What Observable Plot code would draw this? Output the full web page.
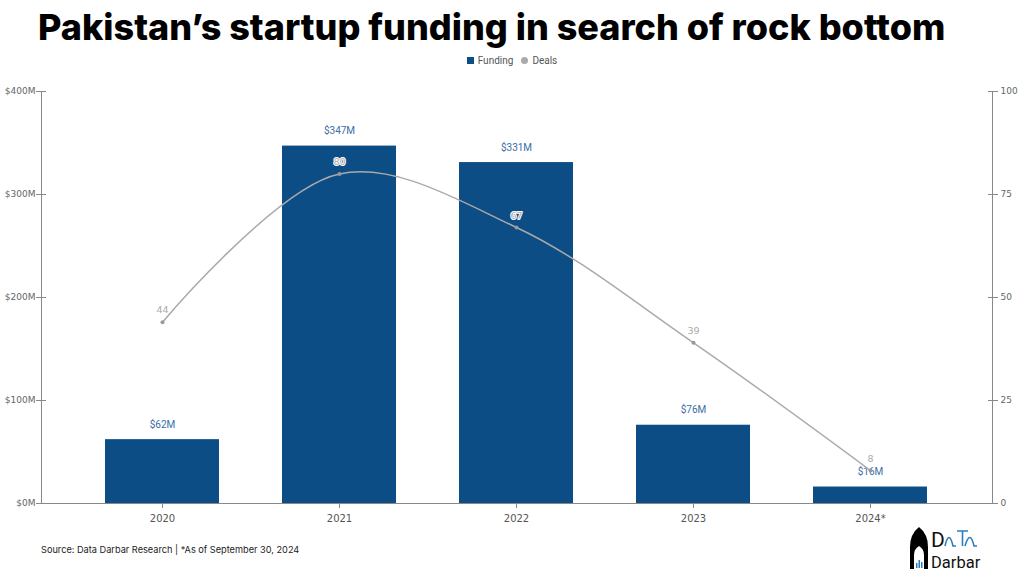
<!DOCTYPE html>
<html><head><meta charset="utf-8">
<script src="https://cdn.jsdelivr.net/npm/d3@7"></script>
<script src="https://cdn.jsdelivr.net/npm/@observablehq/plot@0.6"></script>
<style>
body{margin:0;width:1024px;height:576px;background:#fff;position:relative;overflow:hidden;font-family:Inter,"Noto Sans",sans-serif}
#title{position:absolute;left:38px;top:5px;font-size:36px;font-weight:800;color:#000;white-space:nowrap;letter-spacing:0px}
#legend{position:absolute;top:55px;left:0;width:1024px;text-align:center;font-size:10px;color:#555;font-family:Roboto,sans-serif}
#legend span{display:inline-flex;align-items:center;margin:0 4px}
#legend i{display:inline-block;width:7px;height:7px;margin-right:4px}
#chart{position:absolute;left:0;top:70px}
#source{position:absolute;left:41px;top:544px;font-size:9.2px;color:#222}
#logo{position:absolute;left:908px;top:525px}
</style></head>
<body>
<div id="title">Pakistan’s startup funding in search of rock bottom</div>
<div id="legend"><span><i style="background:#0c4d86"></i>Funding</span><span><i style="background:#aaa;border-radius:50%"></i>Deals</span></div>
<div id="chart"></div>
<div id="source">Source: Data Darbar Research | *As of September 30, 2024</div>
<svg id="logo" width="80" height="46" viewBox="0 0 80 46">
  <path d="M2 44 V22 Q2 9 11 2 Q20 9 20 22 V44 Z" fill="#000"/>
  <path d="M6 44 V30 Q6 24 11 21 Q16 24 16 30 V44 Z" fill="#fff"/>
  <rect x="8" y="38" width="1.5" height="5" fill="#2a7fc0"/><rect x="10.5" y="35" width="1.5" height="8" fill="#2a7fc0"/><rect x="13" y="37" width="1.5" height="6" fill="#2a7fc0"/>
  <text x="23" y="22" font-family="Roboto,sans-serif" font-size="21" fill="#111">D</text>
  <path d="M37 21 Q41 4 45 21 L48 21 M49 6 H60 M54.5 6 V21 M57 21 Q62 4 66 21 L69 21" fill="none" stroke="#2a7fc0" stroke-width="1.6"/>
  <text x="23" y="43" font-family="Roboto,sans-serif" font-size="16.5" fill="#111">Darbar</text>
</svg>
<script>
const years = ["2020", "2021", "2022", "2023", "2024*"];
const funding = [62, 347, 331, 76, 16];
const deals = [44, 80, 67, 39, 8];
const fundingTicks = [0, 100, 200, 300, 400];

const data = years.map((year, i) => ({year, funding: funding[i], deals: deals[i]}));
const dealsScale = 4; // 100 deals ↔ $400M

const chart = Plot.plot({
  width: 1024,
  height: 470,
  marginTop: 21,
  marginBottom: 37,
  marginLeft: 41,
  marginRight: 32,
  x: {domain: years, paddingInner: 0.355, paddingOuter: 0.35, label: null},
  y: {domain: [0, 400], label: null},
  style: {fontFamily: "'DejaVu Sans', Verdana, sans-serif", fontSize: "9px", color: "#666", background: "transparent"},
  marks: [
    Plot.barY(data, {x: "year", y: "funding", fill: "#0c4d86"}),
    Plot.text(data, {x: "year", y: "funding", text: d => `$${d.funding}M`, dy: -15, fill: "#3a6da6", fontSize: 10, fontFamily: "Roboto, sans-serif"}),
    Plot.line(data, {x: "year", y: d => d.deals * dealsScale, stroke: "#aaa", strokeWidth: 1.5, curve: "catmull-rom"}),
    Plot.dot(data, {x: "year", y: d => d.deals * dealsScale, r: 2, fill: "#999"}),
    Plot.text(data, {x: "year", y: d => d.deals * dealsScale, text: d => String(d.deals), dy: -12, fill: "#aaa", stroke: "white", strokeWidth: 2, fontSize: 9.5}),
    Plot.frame({anchor: "left", stroke: "#888"}),
    Plot.frame({anchor: "right", stroke: "#888"}),
    Plot.frame({anchor: "bottom", stroke: "#888"}),
    Plot.axisY({ticks: fundingTicks, tickFormat: d => `$${d}M`, tickSize: 10, dx: 5, tickPadding: 1, stroke: "#888", label: null}),
    Plot.axisY({anchor: "right", ticks: fundingTicks, tickFormat: d => String(d / dealsScale), tickSize: 10, dx: -5, tickPadding: 3, stroke: "#888", label: null}),
    Plot.axisX({tickSize: 5, tickPadding: 6, stroke: "#888", fontSize: 10, fill: "#555", label: null})
  ]
});
document.getElementById("chart").append(chart);
</script>
</body></html>
